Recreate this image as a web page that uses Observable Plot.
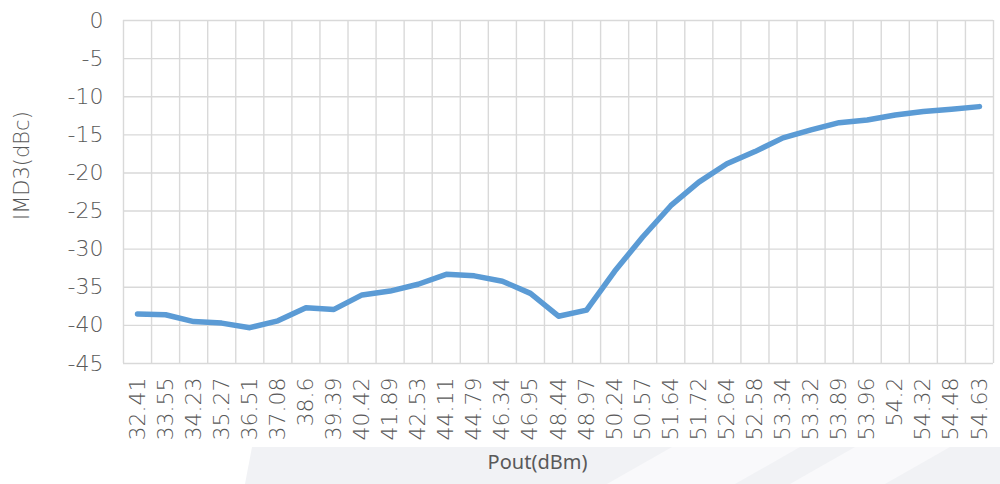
<!DOCTYPE html>
<html>
<head>
<meta charset="utf-8">
<script src="https://cdn.jsdelivr.net/npm/d3@7"></script>
<script src="https://cdn.jsdelivr.net/npm/@observablehq/plot@0.6"></script>
<style>
  html, body { margin: 0; padding: 0; background: #ffffff; }
  #wrap { position: relative; width: 1000px; height: 484px; overflow: hidden; }
  #bg { position: absolute; left: 0; top: 0; z-index: 0; }
  #chart { position: absolute; left: 0; top: 0; z-index: 1; }
</style>
</head>
<body>
<div id="wrap">
  <svg id="bg" width="1000" height="484">
    <polygon points="252,447 1000,447 1000,484 245,484" fill="#f1f2f5"/>
    <polygon points="672,447 800,447 735,484 607,484" fill="#f9f9fb"/>
    <polygon points="855,447 950,447 885,484 790,484" fill="#f9f9fb"/>
  </svg>
  <div id="chart"></div>
</div>
<script>
const pout = ["32.41","33.55","34.23","35.27","36.51","37.08","38.6","39.39","40.42","41.89","42.53","44.11","44.79","46.34","46.95","48.44","48.97","50.24","50.57","51.64","51.72","52.64","52.58","53.34","53.32","53.89","53.96","54.2","54.32","54.48","54.63"];
const imd3 = [-38.5,-38.6,-39.5,-39.7,-40.3,-39.4,-37.7,-37.9,-36.0,-35.5,-34.6,-33.3,-33.5,-34.2,-35.8,-38.8,-38.0,-32.9,-28.4,-24.3,-21.2,-18.8,-17.2,-15.4,-14.35,-13.4,-13.05,-12.4,-11.95,-11.65,-11.3];
const yTicks = [0,-5,-10,-15,-20,-25,-30,-35,-40,-45];
const xTitle = "Pout(dBm)";
const yTitle = "IMD3(dBc)";

const data = pout.map((p, i) => ({i, p, v: imd3[i]}));
const idx = d3.range(pout.length);
const edges = d3.range(-0.5, pout.length, 1);

const tickFont = "'DejaVu Sans', sans-serif";

const chart = Plot.plot({
  width: 1000,
  height: 484,
  marginLeft: 123,
  marginRight: 7,
  marginTop: 20,
  marginBottom: 121,
  style: {background: "transparent", fontFamily: tickFont, fontSize: "22px", color: "#595959", fontWeight: 300},
  x: {domain: [-0.5, pout.length - 0.5]},
  y: {domain: [-45, 0]},
  marks: [
    Plot.gridY(yTicks, {stroke: "#d9d9d9", strokeOpacity: 1, strokeWidth: 1.4}),
    Plot.ruleX(edges, {stroke: "#d9d9d9", strokeWidth: 1.4, y1: -45, y2: 0}),
    Plot.axisY(yTicks, {tickSize: 0, tickPadding: 20, tickFormat: d => String(d), label: null, fill: "#595959", fontSize: 22}),
    Plot.axisX(idx, {tickSize: 0, tickPadding: 14, tickRotate: -90, tickFormat: i => pout[i], label: null, fill: "#595959", fontSize: 22}),
    Plot.line(data, {x: "i", y: "v", stroke: "#5b9bd5", strokeWidth: 5.5, strokeLinejoin: "round", strokeLinecap: "round"}),
    Plot.text([yTitle], {frameAnchor: "left", dx: -101, dy: 28, rotate: -90, fontSize: 21, fill: "#595959", fontFamily: tickFont}),
    Plot.text([xTitle], {frameAnchor: "bottom", dx: -21, dy: 105, fontSize: 20, fill: "#595959", fontFamily: "'Noto Sans', sans-serif", fontWeight: 400})
  ]
});
document.getElementById("chart").appendChild(chart);
</script>
</body>
</html>
